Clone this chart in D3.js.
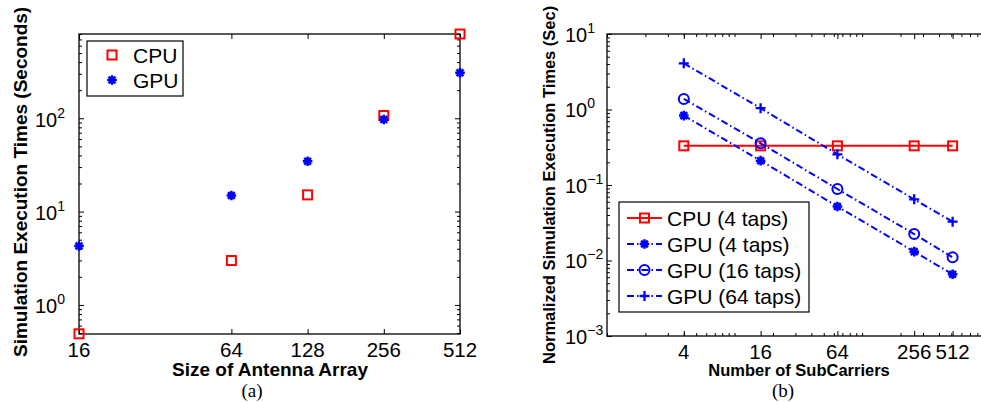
<!DOCTYPE html>
<html><head><meta charset="utf-8">
<script src="https://cdn.jsdelivr.net/npm/d3@7"></script>
<style>
body{margin:0;background:#fff}
svg{display:block}
text{font-family:"Liberation Sans",Arial,Helvetica,sans-serif;fill:#000}
</style>
</head><body>
<svg id="c" width="981" height="402"></svg>
<script>
// ---- data ----
const antennaSizes = [16, 64, 128, 256, 512];
const cpuTimesA = [0.49, 2.99, 15.1, 107, 800];
const gpuTimesA = [4.28, 14.9, 34.7, 97, 307];
const xTicksA = [16, 64, 128, 256, 512];
const yExpA = [0, 1, 2];

const subCarriers = [4, 16, 64, 256, 512];
const cpu4 = [0.33, 0.33, 0.33, 0.33, 0.33];
const gpu4 = [0.83, 0.21, 0.052, 0.0131, 0.00656];
const gpu16 = [1.38, 0.357, 0.0885, 0.0224, 0.011];
const gpu64 = [4.09, 1.04, 0.255, 0.0646, 0.0327];
const xTicksB = [4, 16, 64, 256, 512];
const yExpB = [-3, -2, -1, 0, 1];

const seriesB = [
  {name: "CPU (4 taps)", values: cpu4, color: "#ff0000", marker: "square", dash: null},
  {name: "GPU (4 taps)", values: gpu4, color: "#0000ff", marker: "star", dash: "7,3,1.5,3"},
  {name: "GPU (16 taps)", values: gpu16, color: "#0000ff", marker: "circle", dash: "7,3,1.5,3"},
  {name: "GPU (64 taps)", values: gpu64, color: "#0000ff", marker: "plus", dash: "7,3,1.5,3"}
];

const svg = d3.select("#c");

function marker(g, type, x, y, color) {
  if (type === "square") {
    g.append("rect").attr("x", x - 4.5).attr("y", y - 4.5).attr("width", 9).attr("height", 9)
      .attr("fill", "none").attr("stroke", color).attr("stroke-width", 2);
  } else if (type === "circle") {
    g.append("circle").attr("cx", x).attr("cy", y).attr("r", 5)
      .attr("fill", "none").attr("stroke", color).attr("stroke-width", 2);
  } else if (type === "plus") {
    g.append("path").attr("d", `M${x-5},${y}H${x+5}M${x},${y-5}V${y+5}`)
      .attr("stroke", color).attr("stroke-width", 2.3).attr("fill", "none");
  } else if (type === "star") {
    const r = 4.8, d = r * 0.7071;
    g.append("path").attr("d",
      `M${x-r},${y}H${x+r}M${x},${y-r}V${y+r}M${x-d},${y-d}L${x+d},${y+d}M${x-d},${y+d}L${x+d},${y-d}`)
      .attr("stroke", color).attr("stroke-width", 2.5).attr("fill", "none");
  }
}

function powLabel(g, x, y, exp, fs, sfs) {
  const t = g.append("text").attr("x", x).attr("y", y).attr("font-size", fs);
  t.append("tspan").text("10");
  t.append("tspan").attr("font-size", sfs).attr("dy", -9).text(exp < 0 ? "\u2212" + (-exp) : String(exp));
}

function ticks(g, axisFn, scale, values, size, transform) {
  const a = g.append("g").attr("transform", transform)
    .call(axisFn(scale).tickValues(values).tickSize(size).tickFormat(""));
  a.select(".domain").remove();
  a.selectAll("line").attr("stroke", "#000").attr("stroke-width", 1);
}

// ================= Panel (a) =================
const L = {x0: 79, x1: 460, y0: 34, y1: 334};
const xA = d3.scaleLog().base(2).domain([16, 512]).range([L.x0, L.x1]);
const yA = d3.scaleLog().domain([0.488, 800]).range([L.y1, L.y0]);
const gA = svg.append("g");

const majorA = yExpA.map(e => Math.pow(10, e));
const minorA = yA.ticks().filter(v => !majorA.some(m => Math.abs(m - v) / m < 1e-9));
ticks(gA, d3.axisLeft, yA, majorA, -5, `translate(${L.x0},0)`);
ticks(gA, d3.axisRight, yA, majorA, -5, `translate(${L.x1},0)`);
ticks(gA, d3.axisLeft, yA, minorA, -3, `translate(${L.x0},0)`);
ticks(gA, d3.axisRight, yA, minorA, -3, `translate(${L.x1},0)`);
ticks(gA, d3.axisBottom, xA, xTicksA, -5, `translate(0,${L.y1})`);
ticks(gA, d3.axisTop, xA, xTicksA, -5, `translate(0,${L.y0})`);

gA.append("rect").attr("x", L.x0).attr("y", L.y0).attr("width", L.x1 - L.x0).attr("height", L.y1 - L.y0)
  .attr("fill", "none").attr("stroke", "#000").attr("stroke-width", 1.3);

xTicksA.forEach(v => gA.append("text").attr("x", xA(v)).attr("y", 357).attr("font-size", 20.5)
  .attr("text-anchor", "middle").text(v));
yExpA.forEach(e => powLabel(gA, 35, yA(Math.pow(10, e)) + 8.5, e, 20, 14));

gA.append("text").attr("transform", "translate(27,357) rotate(-90)").attr("font-size", 19)
  .attr("font-weight", "bold").text("Simulation Execution Times (Seconds)");
gA.append("text").attr("x", 270).attr("y", 376).attr("font-size", 19).attr("font-weight", "bold")
  .attr("text-anchor", "middle").text("Size of Antenna Array");
gA.append("text").attr("x", 252).attr("y", 397).attr("font-size", 19)
  .style("font-family", "'Liberation Serif','Times New Roman',serif").attr("text-anchor", "middle").text("(a)");

antennaSizes.forEach((s, i) => marker(gA, "square", xA(s), yA(cpuTimesA[i]), "#ff0000"));
antennaSizes.forEach((s, i) => marker(gA, "star", xA(s), yA(gpuTimesA[i]), "#0000ff"));

// legend (a)
const legA = gA.append("g");
legA.append("rect").attr("x", 87).attr("y", 41).attr("width", 96).attr("height", 55)
  .attr("fill", "#fff").attr("stroke", "#000").attr("stroke-width", 1.2);
marker(legA, "square", 112, 55, "#ff0000");
marker(legA, "star", 112, 80, "#0000ff");
legA.append("text").attr("x", 133).attr("y", 62.5).attr("font-size", 21).text("CPU");
legA.append("text").attr("x", 133).attr("y", 87.5).attr("font-size", 21).text("GPU");

// ================= Panel (b) =================
const R = {x0: 607, x1: 991, y0: 34, y1: 336};
const xB = d3.scaleLog().base(2).domain([1, 1024]).range([R.x0, R.x1]);
const yB = d3.scaleLog().domain([1e-3, 10]).range([R.y1, R.y0]);
const gB = svg.append("g");

const majorB = yExpB.map(e => Math.pow(10, e));
const minorBy = yB.ticks().filter(v => !majorB.some(m => Math.abs(m - v) / m < 1e-9));
const minorBx = d3.scaleLog().domain([1, 1024]).ticks();
ticks(gB, d3.axisLeft, yB, majorB, -5, `translate(${R.x0},0)`);
ticks(gB, d3.axisLeft, yB, minorBy, -3, `translate(${R.x0},0)`);
ticks(gB, d3.axisBottom, xB, xTicksB, -5, `translate(0,${R.y1})`);
ticks(gB, d3.axisTop, xB, xTicksB, -5, `translate(0,${R.y0})`);
ticks(gB, d3.axisBottom, xB, minorBx, -3, `translate(0,${R.y1})`);
ticks(gB, d3.axisTop, xB, minorBx, -3, `translate(0,${R.y0})`);

gB.append("rect").attr("x", R.x0).attr("y", R.y0).attr("width", R.x1 - R.x0).attr("height", R.y1 - R.y0)
  .attr("fill", "none").attr("stroke", "#000").attr("stroke-width", 1.3);

xTicksB.forEach(v => gB.append("text").attr("x", xB(v)).attr("y", 359).attr("font-size", 20.5)
  .attr("text-anchor", "middle").text(v));
yExpB.forEach(e => powLabel(gB, 565, yB(Math.pow(10, e)) + 7.5, e, 20, 14));

gB.append("text").attr("transform", "translate(555,364) rotate(-90)").attr("font-size", 16.5)
  .attr("font-weight", "bold").text("Normalized Simulation Execution Times (Sec)");
gB.append("text").attr("x", 799).attr("y", 376).attr("font-size", 16.5).attr("font-weight", "bold")
  .attr("text-anchor", "middle").text("Number of SubCarriers");
gB.append("text").attr("x", 783).attr("y", 397).attr("font-size", 19)
  .style("font-family", "'Liberation Serif','Times New Roman',serif").attr("text-anchor", "middle").text("(b)");

const line = d3.line().x(d => xB(d[0])).y(d => yB(d[1]));
seriesB.forEach(s => {
  const pts = subCarriers.map((c, i) => [c, s.values[i]]);
  gB.append("path").attr("d", line(pts)).attr("fill", "none").attr("stroke", s.color)
    .attr("stroke-width", 2).attr("stroke-dasharray", s.dash);
  pts.forEach(p => marker(gB, s.marker, xB(p[0]), yB(p[1]), s.color));
});

// legend (b)
const legB = gB.append("g");
legB.append("rect").attr("x", 619).attr("y", 202).attr("width", 190).attr("height", 110)
  .attr("fill", "#fff").attr("stroke", "#000").attr("stroke-width", 1.2);
seriesB.forEach((s, i) => {
  const y = 218 + i * 26;
  legB.append("line").attr("x1", 627).attr("x2", 662).attr("y1", y).attr("y2", y)
    .attr("stroke", s.color).attr("stroke-width", 2).attr("stroke-dasharray", s.dash);
  marker(legB, s.marker, 644.5, y, s.color);
  legB.append("text").attr("x", 667).attr("y", y + 7.5).attr("font-size", 21).text(s.name);
});
</script>
</body></html>
